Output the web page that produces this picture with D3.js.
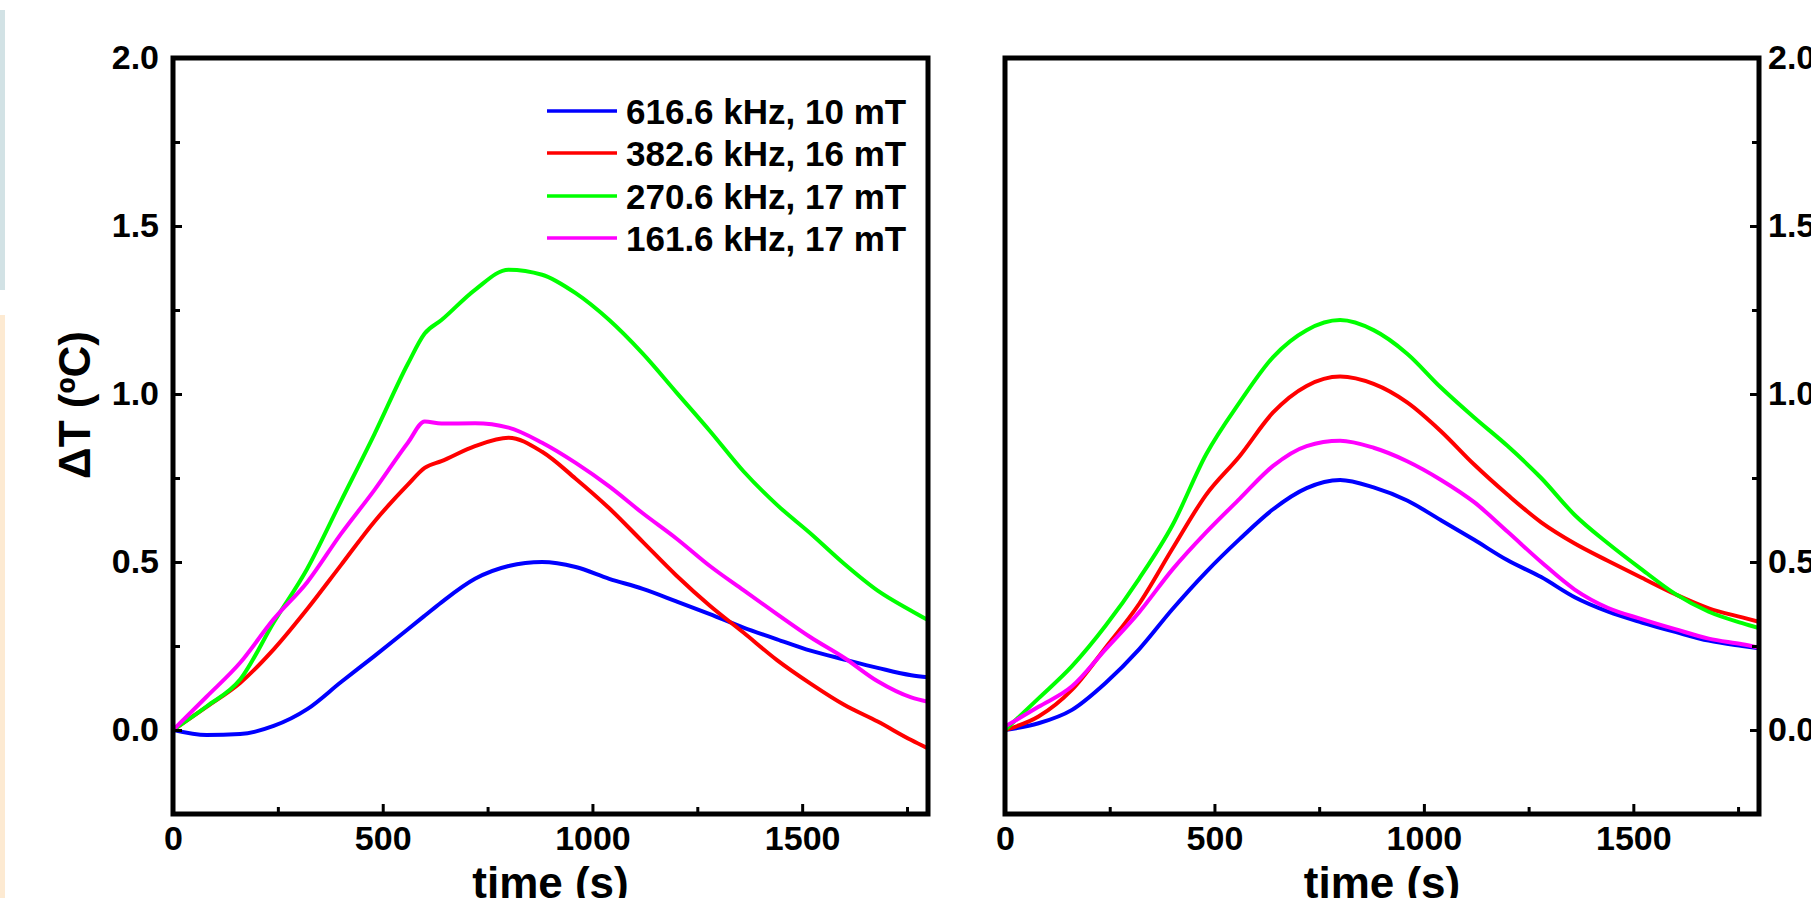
<!DOCTYPE html>
<html>
<head>
<meta charset="utf-8">
<script src="https://cdn.jsdelivr.net/npm/d3@7"></script>
<style>
  body { margin: 0; background: #fff; }
  svg { display: block; }
  text { font-family: "Liberation Sans", Arial, sans-serif; font-weight: bold; fill: #000; }
</style>
</head>
<body>
<div id="viz"></div>
<script>
// series labels / colours
var seriesNames = ["616.6 kHz, 10 mT", "382.6 kHz, 16 mT", "270.6 kHz, 17 mT", "161.6 kHz, 17 mT"];
var seriesColors = ["#0000ff", "#ff0000", "#00ff00", "#ff00ff"];

// left panel (time in s, dT in C)
var timeLeft = [0, 80, 160, 240, 320, 400, 480, 560, 600, 640, 720, 800, 880, 960, 1040, 1120, 1200, 1280, 1360, 1440, 1520, 1600, 1680, 1760, 1800];
var leftBlue    = [0, -0.015, -0.012, 0.012, 0.062, 0.142, 0.22, 0.30, 0.34, 0.38, 0.45, 0.488, 0.50, 0.485, 0.45, 0.42, 0.383, 0.345, 0.305, 0.27, 0.236, 0.21, 0.185, 0.163, 0.157];
var leftRed     = [0, 0.069, 0.14, 0.24, 0.36, 0.49, 0.62, 0.73, 0.78, 0.80, 0.845, 0.87, 0.828, 0.748, 0.66, 0.56, 0.46, 0.37, 0.29, 0.208, 0.138, 0.075, 0.025, -0.03, -0.055];
var leftGreen   = [0, 0.07, 0.15, 0.32, 0.48, 0.68, 0.88, 1.09, 1.18, 1.22, 1.31, 1.37, 1.355, 1.30, 1.22, 1.12, 1.005, 0.89, 0.77, 0.67, 0.585, 0.495, 0.415, 0.355, 0.327];
var leftMagenta = [0, 0.099, 0.2, 0.33, 0.44, 0.583, 0.714, 0.855, 0.918, 0.912, 0.913, 0.90, 0.855, 0.795, 0.725, 0.645, 0.57, 0.488, 0.416, 0.345, 0.276, 0.215, 0.145, 0.097, 0.084];

// right panel
var timeRight = [0, 80, 160, 240, 320, 400, 480, 560, 640, 720, 800, 880, 960, 1040, 1120, 1200, 1280, 1360, 1440, 1520, 1600, 1680, 1760, 1800];
var rightBlue    = [0, 0.02, 0.06, 0.14, 0.24, 0.36, 0.47, 0.568, 0.657, 0.72, 0.744, 0.722, 0.683, 0.625, 0.566, 0.505, 0.455, 0.395, 0.352, 0.32, 0.292, 0.266, 0.25, 0.243];
var rightRed     = [0, 0.04, 0.12, 0.245, 0.375, 0.54, 0.70, 0.815, 0.945, 1.024, 1.052, 1.03, 0.975, 0.89, 0.79, 0.70, 0.618, 0.555, 0.503, 0.453, 0.404, 0.362, 0.335, 0.322];
var rightGreen   = [0, 0.094, 0.19, 0.31, 0.45, 0.61, 0.82, 0.975, 1.11, 1.19, 1.22, 1.19, 1.12, 1.02, 0.93, 0.845, 0.75, 0.64, 0.555, 0.478, 0.405, 0.352, 0.318, 0.303];
var rightMagenta = [0.01, 0.069, 0.13, 0.24, 0.35, 0.478, 0.588, 0.688, 0.786, 0.845, 0.861, 0.84, 0.80, 0.745, 0.678, 0.59, 0.50, 0.418, 0.363, 0.33, 0.30, 0.272, 0.255, 0.245];

var xMajor = [0, 500, 1000, 1500];
var xMinor = [250, 750, 1250, 1750];
var yMajor = [0, 0.5, 1.0, 1.5, 2.0];
var yMinor = [-0.25, 0.25, 0.75, 1.25, 1.75];

var W = 1811, H = 898;
var plotTop = 58, plotBottom = 814;

var svg = d3.select("#viz").append("svg")
    .attr("width", W)
    .attr("height", H);

// strips at left edge of the screenshot
svg.append("rect").attr("x", 0).attr("y", 10).attr("width", 5).attr("height", 280).attr("fill", "#d2e2e5");
svg.append("rect").attr("x", 0).attr("y", 315).attr("width", 5).attr("height", 583).attr("fill", "#fdead2");

var y = d3.scaleLinear().domain([-0.25, 2.0]).range([plotBottom, plotTop]);

function panel(id, left, right, times, series, side) {
    var x = d3.scaleLinear().domain([0, 1800]).range([left, right]);
    var g = svg.append("g");

    g.append("clipPath").attr("id", "clip" + id)
      .append("rect").attr("x", left).attr("y", plotTop).attr("width", right - left).attr("height", plotBottom - plotTop);

    var line = d3.line()
        .x(function(d) { return x(d[0]); })
        .y(function(d) { return y(d[1]); })
        .curve(d3.curveMonotoneX);

    series.forEach(function(vals, i) {
        g.append("path")
            .datum(times.map(function(t, j) { return [t, vals[j]]; }))
            .attr("clip-path", "url(#clip" + id + ")")
            .attr("fill", "none")
            .attr("stroke", seriesColors[i])
            .attr("stroke-width", 4)
            .attr("d", line);
    });

    // x ticks (inward)
    g.append("g").attr("transform", "translate(0," + plotBottom + ")")
        .call(d3.axisBottom(x).tickValues(xMajor).tickSize(-10).tickPadding(12).tickFormat(d3.format("d")));
    g.append("g").attr("transform", "translate(0," + plotBottom + ")")
        .call(d3.axisBottom(x).tickValues(xMinor).tickSize(-7).tickFormat(""));

    // y ticks (inward)
    if (side == "left") {
        g.append("g").attr("transform", "translate(" + left + ",0)")
            .call(d3.axisLeft(y).tickValues(yMajor).tickSize(-9).tickPadding(14).tickFormat(d3.format(".1f")));
        g.append("g").attr("transform", "translate(" + left + ",0)")
            .call(d3.axisLeft(y).tickValues(yMinor).tickSize(-7).tickFormat(""));
    } else {
        g.append("g").attr("transform", "translate(" + right + ",0)")
            .call(d3.axisRight(y).tickValues(yMajor).tickSize(-9).tickPadding(9).tickFormat(d3.format(".1f")));
        g.append("g").attr("transform", "translate(" + right + ",0)")
            .call(d3.axisRight(y).tickValues(yMinor).tickSize(-7).tickFormat(""));
    }

    g.selectAll(".domain").remove();
    g.selectAll(".tick line").attr("stroke", "#000").attr("stroke-width", 3);
    g.selectAll(".tick text").style("font-size", "34px").style("font-family", "'Liberation Sans', Arial, sans-serif").style("font-weight", "bold");

    // frame
    g.append("rect")
        .attr("x", left).attr("y", plotTop)
        .attr("width", right - left).attr("height", plotBottom - plotTop)
        .attr("fill", "none").attr("stroke", "#000").attr("stroke-width", 5);

    // x title
    g.append("text")
        .attr("x", (left + right) / 2).attr("y", 898)
        .attr("text-anchor", "middle")
        .style("font-size", "44px")
        .text("time (s)");

    return x;
}

panel("L", 173, 928, timeLeft, [leftBlue, leftRed, leftGreen, leftMagenta], "left");
panel("R", 1005, 1759, timeRight, [rightBlue, rightRed, rightGreen, rightMagenta], "right");

// y title
svg.append("text")
    .attr("transform", "translate(90,405) rotate(-90)")
    .attr("text-anchor", "middle")
    .style("font-size", "44px")
    .text("\u0394T (\u00baC)");

// legend
var legendY = [111, 153, 196, 238];
var lg = svg.append("g");
seriesNames.forEach(function(name, i) {
    lg.append("line")
        .attr("x1", 547).attr("x2", 617)
        .attr("y1", legendY[i]).attr("y2", legendY[i])
        .attr("stroke", seriesColors[i]).attr("stroke-width", 3.5);
    lg.append("text")
        .attr("x", 626).attr("y", legendY[i])
        .attr("dy", "0.36em")
        .style("font-size", "35px")
        .text(name);
});
</script>
</body>
</html>
